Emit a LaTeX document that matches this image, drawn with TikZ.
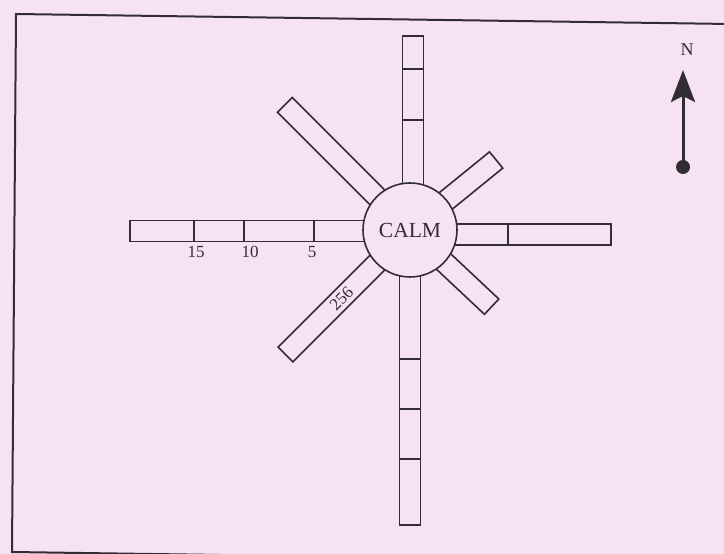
\documentclass[tikz,border=0pt]{standalone}
\usepackage{fontspec}
\setmainfont{Liberation Serif}
\usetikzlibrary{arrows.meta,calc}
\definecolor{paper}{RGB}{245,226,242}
\definecolor{ink}{RGB}{50,45,50}
% bar of the wind rose: angle, length, sideways offset
\newcommand\windbar[3]{%
  \begin{scope}[shift={(c)}, rotate=#1]
    \draw[barline] (20,{#3-10.5}) rectangle (#2,{#3+10.5});
  \end{scope}}
% dividers of a bar: angle, offset, list of distances
\newcommand\windticks[3]{%
  \begin{scope}[shift={(c)}, rotate=#1]
    \foreach \d in {#3} \draw[barline] (\d,{#2-10.5}) -- (\d,{#2+10.5});
  \end{scope}}
\begin{document}
\begin{tikzpicture}[x=1pt,y=1pt,
  barline/.style={draw=ink,line width=1.6pt},
  lbl/.style={font=\fontsize{17}{17}\selectfont,text=ink,inner sep=0pt}]
\fill[paper] (0,0) rectangle (724,554);
\useasboundingbox (0,0) rectangle (724,554);
\clip (0,0) rectangle (724,554);
\draw[ink,line width=2pt] (730,530) -- (16,540) -- (12,2) -- (430,-4);
\coordinate (c) at (410,324);
\windbar{90}{194}{-3}
\windticks{90}{-3}{110,161}
\windbar{-90}{295}{0}
\windticks{-90}{0}{129,179,229}
\windbar{180}{280}{1}
\windticks{180}{1}{96,166,216}
\windbar{0}{201}{-4.5}
\windticks{0}{-4.5}{98}
\windbar{39.1}{111}{0}
\windbar{135}{177}{0}
\windbar{225}{176}{0}
\windbar{-43.2}{112}{0}
\node[circle,draw=ink,line width=1.6pt,fill=paper,minimum size=94pt,inner sep=0pt,
      font=\fontsize{21.5}{21.5}\selectfont,text=ink] (calm) at (c) {CALM};
\node[lbl] (l15) at (196,302) {15};
\node[lbl] (l10) at (250,302) {10};
\node[lbl] (l5) at (312,302) {5};
\node[lbl,rotate=45] (l256) at ($(c)+(225:97)$) {256};
\node[lbl,font=\fontsize{18}{18}\selectfont] (north) at (687,504) {N};
\node[circle,fill=ink,minimum size=14pt,inner sep=0pt] (pin) at (683,387) {};
\coordinate (tip) at (683,484);
\draw[ink,line width=3pt,-{Stealth[length=32pt,width=24pt,inset=6pt]}] (pin.center) -- (tip);
\end{tikzpicture}
\end{document}
